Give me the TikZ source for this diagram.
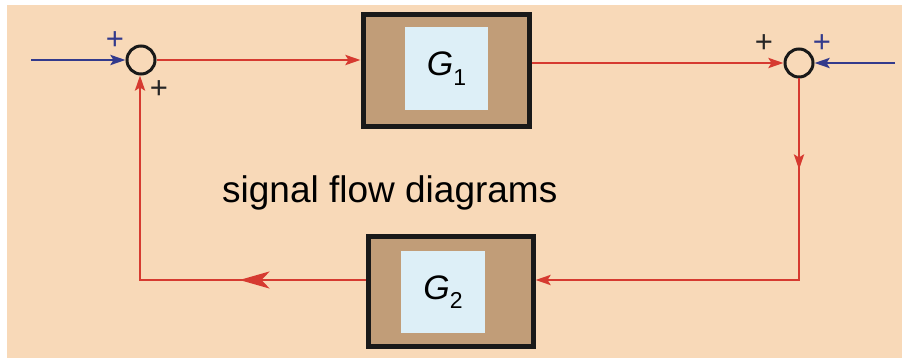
\documentclass[tikz,border=0pt]{standalone}
\usepackage{fontspec}
\setmainfont{Liberation Sans}
\usetikzlibrary{arrows.meta,decorations.markings}
\definecolor{bgpeach}{HTML}{F8D9B8}
\definecolor{lred}{HTML}{D63A30}
\definecolor{lblue}{HTML}{333A8C}
\definecolor{boxbrown}{HTML}{C19D78}
\definecolor{boxlight}{HTML}{DDEFF7}
\tikzset{
  sumj/.style={circle,draw=black!90,line width=3pt,minimum size=28pt,inner sep=0pt,fill=bgpeach},
  outerbox/.style={draw=black!90,line width=5pt,fill=boxbrown,inner sep=0pt},
  innerbox/.style={fill=boxlight,inner sep=0pt,font=\fontsize{34}{34}\selectfont},
  redline/.style={draw=lred,line width=2.8pt},
  blueline/.style={draw=lblue,line width=2.8pt},
  tipa/.style={-{Stealth[length=15pt,width=10pt,inset=3pt]}},
  plusb/.style={text=lblue,font=\fontsize{31}{31}\selectfont,inner sep=0pt},
  plusk/.style={text=black!85,font=\fontsize{31}{31}\selectfont,inner sep=0pt},
  midsmall/.style={postaction={decorate},decoration={markings,
     mark=at position #1 with {\arrow{Stealth[length=15pt,width=10pt,inset=3pt]}}}},
  midbig/.style={postaction={decorate},decoration={markings,
     mark=at position #1 with {\arrow{Stealth[length=30pt,width=17pt,inset=8pt]}}}},
}
\newcommand{\gsub}[1]{\textit{G}\raisebox{-0.28em}{\fontsize{23}{23}\selectfont #1}}
\begin{document}
\begin{tikzpicture}[x=1pt,y=-1pt]
\useasboundingbox (0,0) rectangle (902,358);
\fill[white] (0,0) rectangle (902,358);
\fill[bgpeach] (7,5) rectangle (902,358);
% blocks
\node[outerbox,minimum width=166pt,minimum height=112pt] (g1) at (446,71) {};
\node[innerbox,minimum width=83pt,minimum height=83pt] (g1i) at (446.5,68.5) {\gsub{1}};
\node[outerbox,minimum width=165pt,minimum height=110pt] (g2) at (450.5,291) {};
\node[innerbox,minimum width=84pt,minimum height=82pt] (g2i) at (443,292) {\gsub{2}};
% summing junctions
\node[sumj] (s1) at (141,60) {};
\node[sumj] (s2) at (799,63) {};
% free ends and corners
\coordinate (in1) at (31,60);
\coordinate (in2) at (895,63);
\coordinate (c2) at (799,280);
\coordinate (c3) at (140,280);
% connectors
\draw[blueline,tipa] (in1) -- (s1.west);
\draw[blueline,tipa] (in2) -- (s2.east);
\draw[redline,tipa] (s1.east) -- (g1.west |- s1);
\draw[redline,tipa] (g1.east |- s2) -- (s2.west);
\draw[redline,midsmall=91pt,tipa] (s2.south) -- (c2) -- (g2.east |- c2);
\draw[redline,midbig=126pt,tipa] (g2.west |- c3) -- (c3) -- (s1.south -| c3);
% signs
\node[plusb] (p1) at (115,41) {+};
\node[plusk] (p2) at (159,90) {+};
\node[plusk] (p3) at (764,44) {+};
\node[plusb] (p4) at (822,44) {+};
% caption
\node[anchor=base west,inner sep=0pt,font=\fontsize{37}{37}\selectfont] (cap) at (222,203) {signal flow diagrams};
\end{tikzpicture}
\end{document}
